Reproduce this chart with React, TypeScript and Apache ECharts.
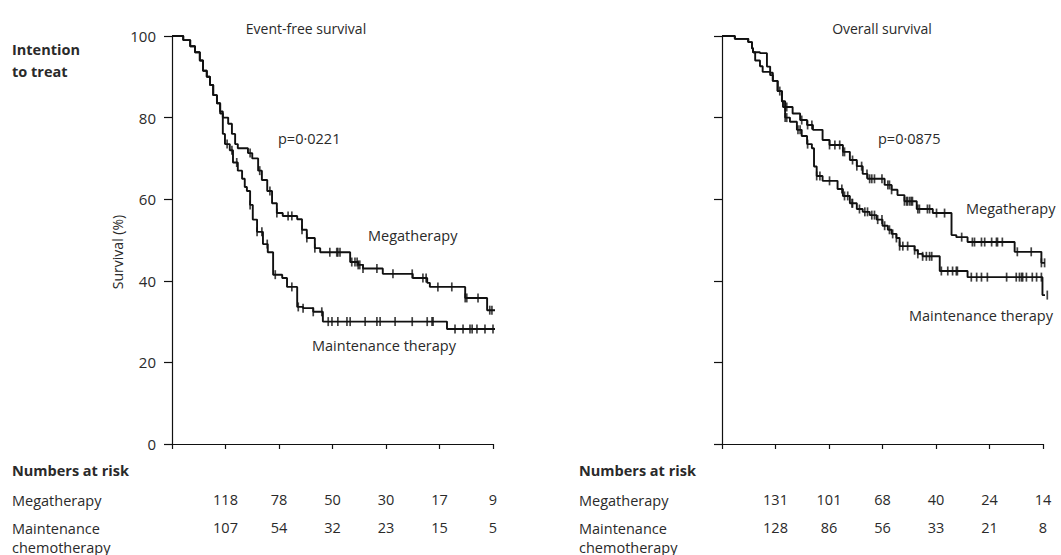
import React, { useEffect, useRef } from "react";
import * as echarts from "echarts";

type Pt = [number, number];

// Time axis (years) and survival axis (%)
const X_MAX = 6;
const X_INTERVAL = 1;
const Y_MAX = 100;
const Y_INTERVAL = 20;

// Event-free survival – Kaplan–Meier steps [time, survival %]
const efsMega: Pt[] = [
  [0, 100], [0.21, 99], [0.34, 97.5], [0.43, 96], [0.52, 94], [0.58, 91.5], [0.65, 90],
  [0.71, 88], [0.77, 85.5], [0.84, 83.5], [0.9, 81.5], [0.95, 80], [1.05, 78.5], [1.12, 76],
  [1.18, 73.5], [1.23, 72.5], [1.42, 71.3], [1.5, 70], [1.61, 67], [1.68, 64.7], [1.78, 62],
  [1.87, 59], [1.96, 56.6], [2.07, 55.9], [2.34, 55.1], [2.43, 52.5], [2.52, 50.5], [2.67, 48],
  [2.77, 47], [3.33, 44.6], [3.48, 43.9], [3.57, 43], [3.94, 41.7], [4.5, 40.7], [4.77, 39.5],
  [4.82, 38.5], [5.48, 35.8], [5.89, 32.8], [6.13, 32.8],
];
const efsMaint: Pt[] = [
  [0, 100], [0.21, 99], [0.34, 97.5], [0.43, 96], [0.52, 94], [0.58, 91.5], [0.65, 90],
  [0.71, 88], [0.77, 85.5], [0.84, 83.5], [0.9, 81], [0.95, 76], [0.99, 73.5], [1.08, 72],
  [1.14, 69], [1.23, 67], [1.31, 65], [1.36, 63], [1.4, 62], [1.46, 58.6], [1.51, 55],
  [1.59, 52], [1.7, 49], [1.79, 47], [1.89, 41.5], [2.06, 40.7], [2.15, 38.5], [2.34, 33.6],
  [2.45, 33.3], [2.64, 32.4], [2.82, 30], [5.14, 28.2], [6.13, 28.2],
];
const efsMegaCensor = [
  1.46, 1.64, 1.83, 1.96, 2.17, 2.24, 2.43, 2.52, 2.67, 2.95, 3.08, 3.1, 3.14, 3.36, 3.42,
  3.46, 3.48, 3.51, 3.57, 3.83, 4.13, 4.49, 4.69, 4.75, 4.97, 5.23, 5.48, 5.51, 5.72, 5.94, 5.98,
];
const efsMaintCensor = [
  1.03, 1.12, 1.21, 1.46, 1.59, 1.68, 1.78, 1.93, 2.24, 2.36, 2.45, 2.64, 2.8, 2.92, 2.99,
  3.1, 3.27, 3.33, 3.61, 3.83, 3.89, 4.17, 4.49, 4.77, 4.86, 4.88, 5.29, 5.44, 5.57, 5.61,
  5.7, 5.85, 6.0,
];

// Overall survival – Kaplan–Meier steps [time, survival %]
const osMega: Pt[] = [
  [0, 100], [0.24, 99.3], [0.49, 98.5], [0.56, 97], [0.58, 96], [0.71, 95.8], [0.84, 92.5],
  [0.9, 91], [0.95, 89], [1.04, 86.5], [1.12, 84], [1.18, 82.6], [1.32, 81], [1.46, 79.4],
  [1.59, 78.2], [1.7, 77], [1.88, 74.5], [2.01, 73.3], [2.26, 71.6], [2.39, 69.6], [2.52, 68.1],
  [2.63, 66.2], [2.72, 65], [3.04, 63.5], [3.17, 62.3], [3.28, 61], [3.41, 59.5], [3.64, 57.6],
  [3.94, 56.6], [4.29, 51.2], [4.38, 50.7], [4.59, 49.5], [5.47, 47.1], [5.97, 44.4], [6.21, 44.4],
];
const osMaint: Pt[] = [
  [0, 100], [0.24, 99.3], [0.49, 98.5], [0.56, 97], [0.58, 96], [0.62, 94], [0.71, 92.6],
  [0.76, 91.2], [0.9, 90.4], [0.95, 89], [1.04, 86.5], [1.12, 84], [1.14, 82.6], [1.18, 80],
  [1.27, 79], [1.4, 77], [1.49, 75.5], [1.59, 73.5], [1.68, 72.5], [1.72, 68], [1.77, 65.7],
  [1.88, 64.5], [2.16, 62.5], [2.26, 60.8], [2.39, 59], [2.52, 57.6], [2.63, 56.9], [2.76, 56.1],
  [2.89, 55], [3.0, 53.5], [3.1, 52.5], [3.17, 51.5], [3.26, 50.5], [3.32, 48.5], [3.6, 47.5],
  [3.66, 46.6], [3.75, 46], [4.07, 42.4], [4.59, 40.9], [5.99, 36.5], [6.21, 36.5],
];
const osMegaCensor = [
  1.08, 1.18, 1.21, 1.49, 1.6, 1.68, 2.01, 2.11, 2.2, 2.26, 2.29, 2.44, 2.52, 2.61, 2.71, 2.76,
  2.8, 2.85, 2.99, 3.1, 3.13, 3.17, 3.41, 3.45, 3.47, 3.51, 3.54, 3.56, 3.66, 3.69, 3.84, 3.88,
  4.01, 4.16, 4.48, 4.68, 4.72, 4.85, 4.91, 5.04, 5.13, 5.15, 5.24, 5.52, 5.78, 5.97, 6.03,
];
const osMaintCensor = [
  1.18, 1.21, 1.42, 1.46, 1.6, 1.77, 1.83, 2.01, 2.24, 2.29, 2.35, 2.43, 2.44, 2.57, 2.67,
  2.72, 2.8, 2.85, 2.91, 2.99, 3.04, 3.13, 3.19, 3.26, 3.32, 3.38, 3.47, 3.6, 3.66, 3.75, 3.82,
  3.88, 3.92, 4.1, 4.22, 4.31, 4.38, 4.4, 4.66, 4.76, 4.85, 4.96, 5.32, 5.5, 5.56, 5.6, 5.62,
  5.69, 5.8, 5.88, 5.97, 6.08,
];

// Numbers at risk
const riskTimes = [1, 2, 3, 4, 5, 6];
const efsRiskMega = [118, 78, 50, 30, 17, 9];
const efsRiskMaint = [107, 54, 32, 23, 15, 5];
const osRiskMega = [131, 101, 68, 40, 24, 14];
const osRiskMaint = [128, 86, 56, 33, 21, 8];

const FONT = "'Open Sans', 'Noto Sans', sans-serif";
const INK = "#111";
const TXT = "#2a2a2a";

function survivalAt(steps: Pt[], t: number): number {
  let s = steps[0][1];
  for (const [tt, v] of steps) {
    if (tt <= t) s = v;
    else break;
  }
  return s;
}

function curve(steps: Pt[], axis: number) {
  return {
    type: "line",
    xAxisIndex: axis,
    yAxisIndex: axis,
    step: "end",
    symbol: "none",
    clip: false,
    data: steps,
    lineStyle: { color: INK, width: 1.9 },
    silent: true,
  };
}

function censor(steps: Pt[], times: number[], axis: number) {
  return {
    type: "scatter",
    xAxisIndex: axis,
    yAxisIndex: axis,
    clip: false,
    symbol: "rect",
    symbolSize: [1.7, 9],
    data: times.map((t) => [t, survivalAt(steps, t)]),
    itemStyle: { color: INK },
    silent: true,
  };
}

function txt(text: string, x: number, y: number, opts: any = {}) {
  return {
    type: "text",
    x,
    y,
    silent: true,
    style: {
      text,
      fill: opts.fill || TXT,
      font: `${opts.weight || "normal"} ${opts.size || 14.5}px ${FONT}`,
      textAlign: opts.align || "left",
      textVerticalAlign: "middle",
    },
    rotation: opts.rotation || 0,
  };
}

export default function App() {
  const ref = useRef<HTMLDivElement>(null);

  useEffect(() => {
    if (!ref.current) return;
    const chart = echarts.init(ref.current, null, { renderer: "svg" });

    const xAxisBase = {
      type: "value",
      min: 0,
      max: X_MAX,
      interval: X_INTERVAL,
      axisLine: { show: true, lineStyle: { color: INK, width: 1.2 } },
      axisTick: { show: true, inside: false, length: 5, lineStyle: { color: INK, width: 1.2 } },
      axisLabel: { show: false },
      splitLine: { show: false },
    };
    const yAxisBase = {
      type: "value",
      min: 0,
      max: Y_MAX,
      interval: Y_INTERVAL,
      axisLine: { show: true, lineStyle: { color: INK, width: 1.2 } },
      axisTick: { show: true, inside: false, length: 8, lineStyle: { color: INK, width: 1.2 } },
      splitLine: { show: false },
    };

    chart.setOption({
      animation: false,
      backgroundColor: "#fff",
      grid: [
        { left: 172, top: 36, width: 321, height: 408 },
        { left: 722, top: 36, width: 321, height: 408 },
      ],
      xAxis: [
        { ...xAxisBase, gridIndex: 0 },
        { ...xAxisBase, gridIndex: 1 },
      ],
      yAxis: [
        {
          ...yAxisBase,
          gridIndex: 0,
          axisLabel: { show: true, color: TXT, fontSize: 15, fontFamily: FONT, margin: 16 },
        },
        { ...yAxisBase, gridIndex: 1, axisLabel: { show: false } },
      ],
      series: [
        curve(efsMega, 0),
        curve(efsMaint, 0),
        censor(efsMega, efsMegaCensor, 0),
        censor(efsMaint, efsMaintCensor, 0),
        curve(osMega, 1),
        curve(osMaint, 1),
        censor(osMega, osMegaCensor, 1),
        censor(osMaint, osMaintCensor, 1),
      ],
    });

    const graphics: any[] = [
      txt("Intention", 12, 49, { weight: "bold" }),
      txt("to treat", 12, 71, { weight: "bold" }),
      txt("Event-free survival", 306, 28, { align: "center", size: 14 }),
      txt("Overall survival", 882, 28, { align: "center", size: 14 }),
      txt("Survival (%)", 117, 252, { align: "center", rotation: Math.PI / 2, size: 14 }),
      txt("p=0·0221", 278, 138),
      txt("p=0·0875", 878, 138),
      txt("Megatherapy", 368, 235),
      txt("Maintenance therapy", 312, 345),
      txt("Megatherapy", 966, 208),
      txt("Maintenance therapy", 909, 315),
    ];

    const rowLabels = (x: number) => [
      txt("Numbers at risk", x, 470, { weight: "bold" }),
      txt("Megatherapy", x, 500),
      txt("Maintenance", x, 528),
      txt("chemotherapy", x, 547),
    ];
    graphics.push(...rowLabels(12), ...rowLabels(579));

    const riskRows: [number, number[], number][] = [
      [0, efsRiskMega, 499],
      [0, efsRiskMaint, 527],
      [1, osRiskMega, 499],
      [1, osRiskMaint, 527],
    ];
    riskRows.forEach(([g, vals, y]) => {
      vals.forEach((v, i) => {
        const p = chart.convertToPixel({ gridIndex: g }, [riskTimes[i], 0]) as number[];
        graphics.push(txt(String(v), p[0], y, { align: "center" }));
      });
    });

    chart.setOption({ graphic: graphics });

    return () => chart.dispose();
  }, []);

  return (
    <div
      ref={ref}
      style={{ position: "fixed", left: 0, top: 0, width: 1061, height: 555, background: "#fff" }}
    />
  );
}
